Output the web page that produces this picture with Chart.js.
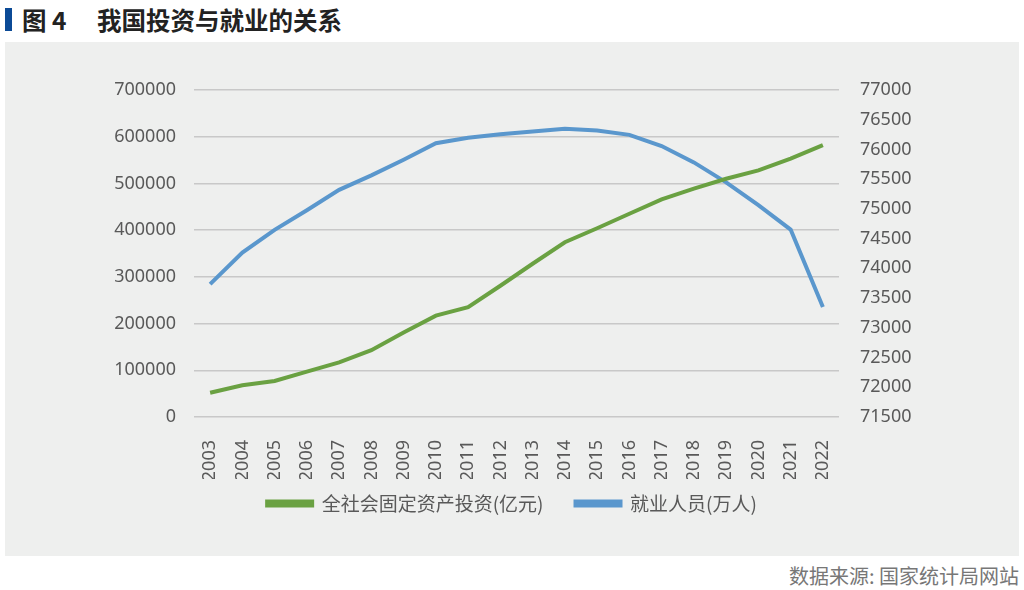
<!DOCTYPE html>
<html>
<head>
<meta charset="utf-8">
<script src="https://cdn.jsdelivr.net/npm/chart.js@4.4.0/dist/chart.umd.min.js"></script>
<style>
  body { margin: 0; width: 1024px; height: 590px; background: #fff; position: relative; overflow: hidden;
         font-family: 'Noto Sans', 'Noto Sans CJK SC', sans-serif; }
  .bar { position: absolute; left: 5px; top: 8px; width: 7px; height: 23px; background: #0b4a96; }
  .title { position: absolute; top: 2px; font-size: 24.5px; font-weight: bold; color: #222;
           font-family: 'Noto Sans CJK SC', sans-serif; white-space: nowrap; }
  .panel { position: absolute; left: 5px; top: 42px; width: 1014px; height: 514px; background: #eeefee; }
  .source { position: absolute; right: 5px; top: 561px; font-size: 20px; color: #777;
            font-family: 'Noto Sans CJK SC', sans-serif; }
</style>
</head>
<body>
<div class="bar"></div>
<div class="title" style="left:22px">图 4</div>
<div class="title" style="left:97px">我国投资与就业的关系</div>
<div class="panel"><canvas id="chart" width="1014" height="514"></canvas></div>
<div class="source">数据来源: 国家统计局网站</div>
<script>
const years = ['2003','2004','2005','2006','2007','2008','2009','2010','2011','2012',
               '2013','2014','2015','2016','2017','2018','2019','2020','2021','2022'];
const investment = [52000, 68000, 77000, 97000, 117000, 143000, 181000, 217000, 235000, 281000,
                    328000, 374000, 404000, 435000, 466000, 489000, 510000, 528000, 553000, 582000];
const employment = [73736, 74264, 74647, 74978, 75321, 75564, 75828, 76105, 76196, 76254,
                    76301, 76349, 76320, 76245, 76058, 75782, 75447, 75064, 74652, 73351];
const seriesNames = ['全社会固定资产投资(亿元)', '就业人员(万人)'];

const tickFont = { family: "'Noto Sans', 'Noto Sans CJK SC', sans-serif", size: 18 };
const tickColor = '#595959';

new Chart(document.getElementById('chart'), {
    type: 'line',
    data: {
        labels: years,
        datasets: [{
            label: seriesNames[0],
            data: investment,
            yAxisID: 'y',
            borderColor: '#6aa142',
            backgroundColor: '#6aa142',
            borderWidth: 4,
            pointRadius: 0,
            tension: 0
        }, {
            label: seriesNames[1],
            data: employment,
            yAxisID: 'y1',
            borderColor: '#5a97cd',
            backgroundColor: '#5a97cd',
            borderWidth: 4,
            pointRadius: 0,
            tension: 0
        }]
    },
    options: {
        responsive: false,
        animation: false,
        layout: { padding: { top: 48, bottom: 33, left: 0, right: 0 } },
        plugins: {
            legend: {
                position: 'bottom',
                labels: {
                    boxWidth: 45,
                    boxHeight: 4,
                    padding: 15,
                    color: tickColor,
                    font: { family: "'Noto Sans CJK SC', sans-serif", size: 19 },
                    // a bit more room after the first item, like the original
                    generateLabels: chart => {
                        const items = Chart.defaults.plugins.legend.labels.generateLabels(chart);
                        items[0].text = items[0].text + '    ';
                        return items;
                    }
                }
            },
            tooltip: { enabled: false }
        },
        scales: {
            x: {
                offset: true,
                grid: { display: false },
                border: { display: false },
                ticks: { color: tickColor, font: tickFont, minRotation: 90, maxRotation: 90, padding: 15 },
                afterFit: s => { s.height = 62; }
            },
            y: {
                position: 'left',
                min: 0, max: 700000,
                border: { display: false },
                grid: { color: '#c8c8c8', lineWidth: 1.5, drawTicks: false },
                ticks: { stepSize: 100000, color: tickColor, font: tickFont, padding: 18,
                         callback: v => String(v) },
                afterFit: s => { s.width = 189; }
            },
            y1: {
                position: 'right',
                min: 71500, max: 77000,
                border: { display: false },
                grid: { display: false, drawTicks: false },
                ticks: { stepSize: 500, color: tickColor, font: tickFont, padding: 21,
                         callback: v => String(v) },
                afterFit: s => { s.width = 180; }
            }
        }
    }
});
</script>
</body>
</html>
